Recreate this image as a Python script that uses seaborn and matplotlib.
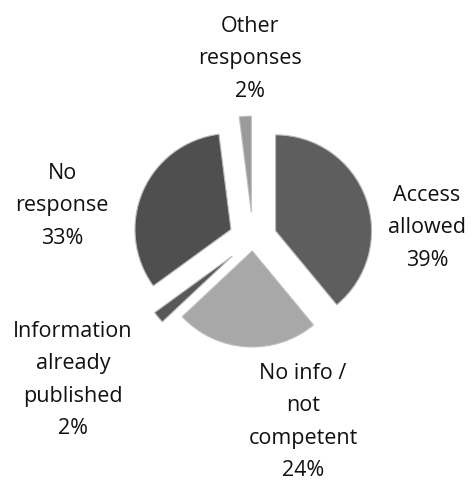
import matplotlib
matplotlib.use("Agg")
import matplotlib.pyplot as plt
import seaborn as sns

categories = ["Access\nallowed", "No info /\nnot\ncompetent", "Information\nalready\npublished", "No\nresponse", "Other\nresponses"]
values = [39, 24, 2, 33, 2]
explode = [0.25, 0.125, 0.28, 0.25, 0.28]
colors = ["#5e5e5e", "#a8a8a8", "#585858", "#4f4f4f", "#9a9a9a"]
label_pos = [(427, 228), (303, 422), (73, 380), (62, 206), (250, 59)]

sns.set_theme(style="white")
plt.rcParams['font.family'] = ['Open Sans', 'DejaVu Sans']

W, H = 473, 489
fig = plt.figure(figsize=(W / 100, H / 100), dpi=100)
ax = fig.add_axes([0, 0, 1, 1])

cx, cy, R = 253, H - 240, 96
wedges, _ = ax.pie(values, explode=[e * R for e in explode], colors=colors, startangle=90,
                   counterclock=False, center=(cx, cy), radius=R, frame=True,
                   wedgeprops=dict(edgecolor="#bdbdbd", linewidth=0.8))
ax.set_xlim(0, W)
ax.set_ylim(0, H)
ax.set_aspect("equal")
ax.axis("off")

for cat, v, (x, y) in zip(categories, values, label_pos):
    ax.text(x, H - y, f"{cat}\n{v}%", ha="center", va="center", fontsize=15.5,
            linespacing=1.72, color="#111111")

fig.savefig("out.png", dpi=100)
